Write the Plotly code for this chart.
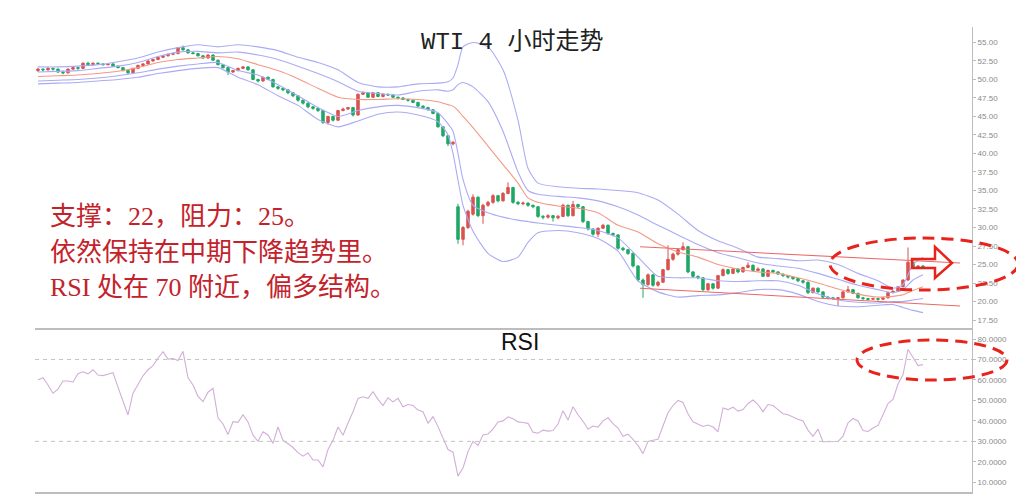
import plotly.graph_objects as go

# ---------------- data ----------------
OPEN = [51.2,51.4,51.3,51.5,51.4,51.0,50.9,51.4,51.6,51.5,52.2,52.0,52.2,52.1,52.0,52.1,51.8,51.6,51.2,50.9,
        51.5,51.9,52.1,52.5,52.7,53.0,53.2,53.4,53.5,54.3,54.0,53.6,53.5,53.2,52.9,53.3,52.6,52.0,51.6,51.0,
        51.2,51.5,51.7,51.3,50.0,49.8,50.3,50.0,49.0,48.8,48.6,48.2,47.8,47.2,46.8,46.3,46.1,45.8,44.2,45.0,
        44.5,45.8,46.0,46.2,45.2,48.0,48.2,47.6,48.2,47.7,48.0,47.9,47.6,47.5,47.3,47.2,46.9,46.4,46.2,45.9,
        45.4,43.6,42.4,41.3,32.8,28.4,30.0,31.8,34.1,31.6,33.0,33.4,34.3,33.6,34.6,35.4,33.4,33.2,33.3,33.0,
        32.8,31.5,31.4,31.6,31.3,31.5,33.0,31.6,33.1,32.8,30.8,29.8,29.1,29.9,30.3,29.2,29.0,27.2,27.0,26.5,
        24.8,22.9,22.3,23.6,22.2,22.6,24.3,25.7,26.4,27.0,27.4,24.0,23.4,23.2,21.6,22.4,21.8,23.5,24.3,23.8,
        24.4,24.0,24.6,24.9,24.2,24.4,23.4,24.2,24.0,23.7,23.5,23.3,23.1,22.8,22.6,21.2,21.8,21.3,20.6,20.5,
        20.4,20.5,21.3,21.6,21.1,20.5,20.4,20.3,20.4,20.3,20.5,21.2,21.4,22.0,22.9,25.3,24.6,24.8]
HIGH = [51.6,51.5,51.7,51.6,51.5,51.2,51.5,51.8,51.7,52.3,52.4,52.3,52.3,52.2,52.2,52.2,51.9,51.7,51.3,51.6,
        52.0,52.2,52.6,52.8,53.1,53.3,53.5,53.6,54.4,54.6,54.1,53.7,53.6,53.3,53.4,53.4,52.7,52.1,51.7,51.3,
        51.6,51.8,51.8,51.4,50.1,50.4,50.4,50.1,49.1,48.9,48.7,48.3,47.9,47.3,46.9,46.4,46.2,45.9,45.1,45.1,
        45.9,46.2,46.3,46.3,48.1,48.4,48.3,48.3,48.3,48.1,48.1,48.0,47.7,47.6,47.4,47.3,47.0,46.5,46.3,46.0,
        45.5,43.7,42.5,41.7,33.2,30.2,32.4,34.5,34.2,33.2,33.6,34.5,34.4,34.8,36.1,35.5,33.6,33.5,33.4,33.1,
        32.9,31.7,31.8,31.7,31.7,33.2,33.1,33.6,33.2,32.9,30.9,29.9,30.0,30.5,30.4,29.3,29.1,27.4,27.1,26.6,
        24.9,23.1,23.8,23.7,22.8,24.4,27.6,26.6,27.2,28.0,27.5,24.1,23.5,23.3,22.5,22.5,23.6,24.5,24.4,24.5,
        24.5,24.7,25.3,25.0,24.6,24.5,24.3,24.3,24.1,23.8,23.6,23.4,23.2,22.9,22.7,21.9,21.9,21.4,20.7,20.6,
        20.6,21.4,22.1,21.7,21.2,20.6,20.5,20.5,20.5,20.6,21.3,21.5,22.1,23.0,27.3,25.4,24.9,24.9]
LOW = [51.0,51.1,51.2,51.2,50.9,50.7,50.8,51.3,51.3,51.4,51.9,51.9,52.0,51.9,51.9,51.7,51.5,51.1,50.7,50.8,
       51.4,51.8,52.0,52.4,52.6,52.9,53.1,53.3,53.4,53.9,53.5,53.4,53.1,52.8,52.8,52.5,51.9,51.5,50.6,50.9,
       51.1,51.4,51.2,49.9,49.6,49.7,49.9,48.9,48.6,48.4,48.0,47.6,47.0,46.6,46.1,45.9,45.6,44.0,43.9,44.3,
       44.4,45.7,45.9,45.0,45.1,47.9,47.5,47.5,47.6,47.6,47.8,47.5,47.3,47.2,47.0,46.8,46.3,46.0,45.8,45.3,
       43.5,42.2,41.0,41.1,27.8,27.6,29.8,31.6,31.4,30.5,32.8,33.2,33.4,33.5,34.5,33.2,33.0,33.0,32.8,32.6,
       31.3,31.1,31.2,30.8,31.1,31.4,31.4,31.5,32.6,30.6,29.6,28.9,28.7,29.8,29.0,28.8,27.0,26.8,26.3,24.6,
       22.7,20.5,22.1,22.0,22.0,22.5,24.2,25.5,26.2,26.9,23.8,23.2,23.0,21.4,21.4,21.6,21.7,23.4,23.6,23.7,
       23.8,23.9,24.5,24.0,24.1,23.3,23.3,23.8,23.6,23.3,23.1,22.9,22.6,22.4,21.0,21.1,21.1,20.4,20.3,20.2,
       19.4,20.4,21.2,21.0,20.4,20.2,20.1,20.2,20.1,20.2,20.4,21.1,21.3,21.9,22.8,24.4,24.5,24.4]
CLOSE = [51.4,51.3,51.5,51.4,51.0,50.9,51.4,51.6,51.5,52.2,52.0,52.2,52.1,52.0,52.1,51.8,51.6,51.2,50.9,51.5,
         51.9,52.1,52.5,52.7,53.0,53.2,53.4,53.5,54.3,54.0,53.6,53.5,53.2,52.9,53.3,52.6,52.0,51.6,51.0,51.2,
         51.5,51.7,51.3,50.0,49.8,50.3,50.0,49.0,48.8,48.6,48.2,47.8,47.2,46.8,46.3,46.1,45.8,44.2,45.0,44.5,
         45.8,46.0,46.2,45.2,48.0,48.2,47.6,48.2,47.7,48.0,47.9,47.6,47.5,47.3,47.2,46.9,46.4,46.2,45.9,45.4,
         43.6,42.4,41.3,41.5,28.4,30.0,32.2,34.1,31.6,33.0,33.4,34.3,33.6,34.6,35.4,33.4,33.2,33.3,33.0,32.8,
         31.5,31.4,31.6,31.3,31.5,33.0,31.6,33.1,32.8,30.8,29.8,29.1,29.9,30.3,29.2,29.0,27.2,27.0,26.5,24.8,
         22.9,22.3,23.6,22.2,22.6,24.3,25.7,26.4,27.0,27.4,24.0,23.4,23.2,21.6,22.4,21.8,23.5,24.3,23.8,24.4,
         24.0,24.6,24.9,24.2,24.4,23.4,24.2,24.0,23.7,23.5,23.3,23.1,22.8,22.6,21.2,21.8,21.3,20.6,20.5,20.4,
         20.5,21.3,21.6,21.1,20.5,20.4,20.3,20.4,20.3,20.5,21.2,21.4,22.0,22.9,25.3,24.6,24.8,24.6]

RSI = [60.0,61.1,57.5,53.5,55.5,59.5,59.5,58.9,63.0,64.0,63.0,65.0,62.4,62.1,62.8,63.5,56.5,50.0,42.9,53.5,
       57.5,62.0,65.0,67.0,70.6,73.8,70.2,70.5,69.5,74.0,61.0,57.5,52.0,49.4,54.0,55.9,41.5,38.5,33.4,39.6,
       39.3,43.0,39.5,33.0,30.0,34.7,33.1,29.0,37.0,30.5,28.8,27.0,24.5,22.8,24.3,20.9,20.9,17.5,26.0,30.5,
       37.0,33.0,39.0,44.5,51.0,51.8,51.0,54.3,50.5,47.5,51.3,49.3,51.0,46.9,48.0,47.5,45.3,44.5,38.8,42.1,
       37.2,32.0,26.0,24.7,13.0,17.0,25.0,30.0,28.0,33.1,33.6,36.0,39.5,40.0,42.0,41.0,39.5,39.2,38.8,34.5,
       34.0,35.5,35.0,35.3,38.5,45.0,40.4,46.9,43.0,39.8,36.0,37.5,37.0,40.0,41.5,38.7,36.5,32.5,33.5,31.0,
       28.0,24.0,30.0,30.5,31.0,37.5,44.0,47.5,50.0,49.0,43.5,39.6,38.5,37.3,38.0,37.0,34.7,46.3,45.5,46.7,
       44.8,45.5,48.5,50.2,48.0,44.5,48.0,47.5,45.5,43.5,43.0,41.8,40.8,40.0,35.5,32.5,36.0,29.8,29.8,30.0,
       29.9,32.5,39.0,41.2,40.0,35.3,34.8,36.5,37.8,43.0,48.5,50.5,58.0,62.5,75.0,71.0,67.0,67.5]

BAND_IDX = [0,4,8,12,16,20,24,28,32,36,40,44,48,52,56,60,64,68,72,76,80,82,83,84,85,87,90,93,96,98,
            100,104,108,112,116,120,124,128,132,136,140,144,148,152,156,160,164,168,171,173,175,177]
BB_OUTER_UP = [51.7,51.7,51.8,52.0,52.4,52.9,53.7,54.3,54.7,54.4,54.7,54.4,53.9,53.0,52.3,51.3,49.6,49.0,49.0,49.4,
               49.5,49.7,50.2,52.0,54.4,55.0,54.4,51.3,44.5,38.0,36.0,35.5,35.3,35.2,35.0,34.7,33.7,31.8,29.6,28.2,
               27.2,26.0,25.8,25.5,25.6,25.0,23.8,22.8,21.8,22.3,25.0,26.0]
BB_INNER_UP = [51.0,51.1,51.2,51.5,51.8,52.3,53.1,53.7,53.8,53.6,53.7,53.3,52.7,51.8,50.8,49.7,48.4,48.1,47.9,48.4,
               48.6,48.4,48.6,49.3,49.6,49.0,47.0,43.0,37.5,35.0,34.5,34.2,34.0,33.6,32.8,31.7,30.3,29.0,27.7,26.6,
               25.9,25.2,24.8,24.5,23.8,23.0,22.2,21.6,21.2,21.6,22.9,23.6]
BB_MID = [50.4,50.5,50.6,50.8,51.1,51.6,52.3,52.7,52.9,53.1,52.8,52.0,51.2,50.1,48.8,47.6,47.3,47.3,47.4,47.3,
          47.0,46.6,46.4,45.8,45.0,43.5,41.0,38.5,36.0,34.0,33.4,32.9,32.6,32.0,30.3,29.4,27.8,26.7,26.0,25.0,
          24.4,24.0,23.8,23.2,22.5,21.7,21.0,20.6,20.7,20.9,21.5,22.0]
BB_INNER_LO = [49.8,49.9,50.0,50.2,50.5,50.9,51.4,51.8,52.1,52.3,51.2,50.6,49.3,47.8,46.2,45.0,45.8,46.3,46.5,46.2,
               45.5,44.0,43.0,40.0,36.5,33.0,32.0,31.4,31.0,30.8,30.6,30.3,30.0,29.6,28.6,26.0,23.4,23.2,23.2,22.8,
               22.7,22.8,22.8,22.2,21.0,20.2,19.9,19.8,20.0,20.0,20.2,20.4]
BB_OUTER_LO = [49.4,49.5,49.6,49.8,50.0,50.3,50.8,51.2,51.5,51.6,50.3,49.3,47.8,46.5,44.6,43.6,44.4,45.3,45.6,45.2,
               44.3,42.5,40.0,36.4,33.0,29.5,26.5,25.4,26.0,28.0,29.3,29.6,29.3,28.5,26.8,22.8,21.3,20.6,20.8,20.9,
               21.2,21.6,21.6,21.0,20.0,19.4,19.3,19.5,19.6,19.2,18.8,18.5]

TREND_IDX = [120.4, 184.4]
TREND_UPPER = [27.4, 25.2]
TREND_LOWER = [21.8, 19.4]

PRICE_TICKS = [17.5,20.0,22.5,25.0,27.5,30.0,32.5,35.0,37.5,40.0,42.5,45.0,47.5,50.0,52.5,55.0,57.5]
RSI_TICKS = [10,20,30,40,50,60,70,80]
RSI_LEVELS = [70, 30]

TITLE = "WTI 4 小时走势"
NOTES = ["支撑：22，阻力：25。", "依然保持在中期下降趋势里。", "RSI 处在 70 附近，偏多结构。"]

# ---------------- figure ----------------
idx = list(range(len(CLOSE)))
fig = go.Figure()

band_color = "#ababf5"
for vals in (BB_OUTER_UP, BB_INNER_UP, BB_INNER_LO, BB_OUTER_LO):
    fig.add_trace(go.Scatter(x=BAND_IDX, y=vals, mode="lines", line=dict(color=band_color, width=1.1, shape="spline", smoothing=0.6),
                             hoverinfo="skip", showlegend=False))
fig.add_trace(go.Scatter(x=BAND_IDX, y=BB_MID, mode="lines", line=dict(color="#f39a86", width=1.1, shape="spline", smoothing=0.6),
                         hoverinfo="skip", showlegend=False))
for vals in (TREND_UPPER, TREND_LOWER):
    fig.add_trace(go.Scatter(x=TREND_IDX, y=vals, mode="lines", line=dict(color="#ee6666", width=1.1),
                             hoverinfo="skip", showlegend=False))

fig.add_trace(go.Candlestick(x=idx, open=OPEN, high=HIGH, low=LOW, close=CLOSE,
                             increasing=dict(line=dict(color="#d9534f", width=1), fillcolor="#d9534f"),
                             decreasing=dict(line=dict(color="#1fa866", width=1), fillcolor="#1fa866"),
                             whiskerwidth=0, showlegend=False))

fig.add_trace(go.Scatter(x=idx, y=RSI, mode="lines", line=dict(color="#d2aed8", width=1.1),
                         xaxis="x2", yaxis="y2", showlegend=False))

# The page body has an 8 px margin: build the figure 8 px smaller and shift all page coordinates.
OFF = 8
W, H = 1024 - OFF, 499 - OFF
PX_L, PX_R = 35, 972          # plot area edges in page pixels

def px(xp):
    return (xp - PX_L) / (PX_R - PX_L)
def py(yp):
    return 1 - (yp - OFF) / H

top_dom = [py(330), py(27)]
rsi_dom = [py(492), py(330)]

fig.update_layout(
    width=W, height=H,
    margin=dict(l=PX_L - OFF, r=1024 - PX_R, t=0, b=0, autoexpand=False),
    paper_bgcolor="white", plot_bgcolor="white",
    showlegend=False,
    xaxis=dict(domain=[0, 1], range=[-0.6, 186.8], anchor="y", showticklabels=False, showgrid=False,
               zeroline=False, showline=False, rangeslider=dict(visible=False), ticks=""),
    yaxis=dict(domain=top_dom, range=[16.15, 57.09], side="right", tickvals=PRICE_TICKS, tickformat=".2f",
               showgrid=False, zeroline=False, showline=True, linecolor="#bdbdbd", linewidth=1,
               ticks="outside", ticklen=3, tickcolor="#bdbdbd", automargin=False,
               tickfont=dict(family="Liberation Sans", size=8, color="#8a8a8a")),
    xaxis2=dict(domain=[0, 1], range=[-0.6, 186.8], anchor="y2", showticklabels=False, showgrid=False,
                zeroline=False, showline=True, mirror=True, linecolor="#bdbdbd", linewidth=1.5, ticks=""),
    yaxis2=dict(domain=rsi_dom, range=[5.26, 84.4], side="right", tickvals=RSI_TICKS, tickformat=".4f",
                showgrid=False, zeroline=False, showline=True, linecolor="#bdbdbd", linewidth=1,
                ticks="outside", ticklen=3, tickcolor="#bdbdbd", automargin=False,
                tickfont=dict(family="Liberation Sans", size=8, color="#8a8a8a")),
)

for lvl in RSI_LEVELS:
    fig.add_shape(type="line", xref="paper", yref="y2", x0=0, x1=1, y0=lvl, y1=lvl,
                  line=dict(color="#c4c4c4", width=1, dash="4px,4px"))

# title
fig.add_annotation(x=px(512), y=py(42), xref="paper", yref="paper", text=TITLE, showarrow=False,
                   xanchor="center", yanchor="middle",
                   font=dict(family="Liberation Mono, Noto Sans CJK SC", size=24, color="#222222"))
# RSI label
fig.add_annotation(x=px(520), y=py(342), xref="paper", yref="paper", text="RSI", showarrow=False,
                   xanchor="center", yanchor="middle",
                   font=dict(family="Liberation Sans", size=23, color="#111111"))
# notes
for k, yy in enumerate([216.5, 252, 287]):
    fig.add_annotation(x=px(48), y=py(yy), xref="paper", yref="paper", text=NOTES[k], showarrow=False,
                       xanchor="left", yanchor="middle",
                       font=dict(family="Liberation Serif, Noto Sans CJK SC", size=26, color="#c4222b"))

# dashed ellipses
ell = dict(color="#e8231c", width=3, dash="12px,7px")
fig.add_shape(type="circle", xref="paper", yref="paper", x0=px(830), x1=px(1018), y0=py(290), y1=py(238), line=ell)
fig.add_shape(type="circle", xref="paper", yref="paper", x0=px(857), x1=px(1007), y0=py(380), y1=py(340), line=ell)

# hollow arrow
pts = [(912, 259), (935, 259), (935, 247), (952, 263), (935, 278), (935, 268), (912, 268)]
path = "M " + " L ".join(f"{px(a):.5f},{py(b):.5f}" for a, b in pts) + " Z"
fig.add_shape(type="path", xref="paper", yref="paper", path=path, line=dict(color="#e8231c", width=2.5))

fig.write_html("out.html")
